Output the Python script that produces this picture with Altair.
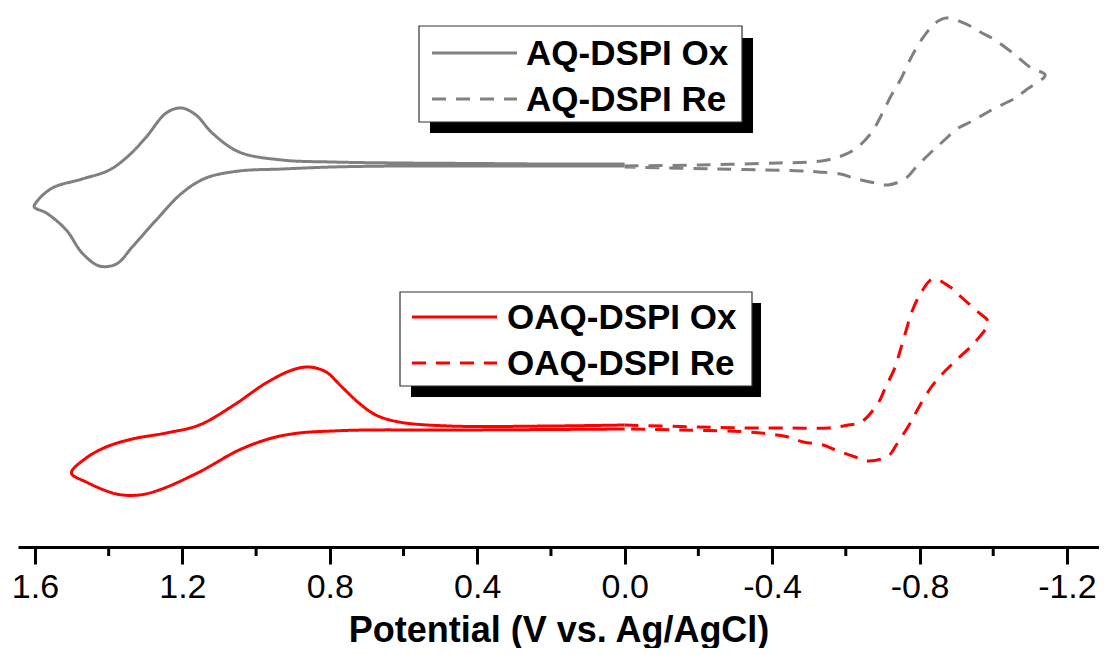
import altair as alt
import pandas as pd

# ---- data: potential (V vs. Ag/AgCl) and relative current (a.u.) ----
aq_ox_v = [0.00, 0.20, 0.40, 0.612, 0.794, 0.930, 1.046, 1.119, 1.163, 1.203, 1.244, 1.298, 1.344, 1.398,
           1.472, 1.553, 1.596, 1.602, 1.569, 1.515, 1.472, 1.425, 1.379, 1.336, 1.271, 1.201, 1.136, 1.046,
           0.930, 0.794, 0.612, 0.300, 0.00]
aq_ox_i = [38.3, 38.3, 38.35, 38.4, 38.5, 38.7, 39.5, 41.4, 43.2, 43.9, 43.4, 41.0, 39.2, 37.7,
           36.8, 35.9, 34.5, 34.0, 33.4, 31.7, 29.4, 28.1, 28.3, 30.0, 32.7, 35.4, 36.9, 37.6,
           37.8, 38.0, 38.1, 38.1, 38.1]

aq_re_v = [0.00, -0.20, -0.417, -0.534, -0.588, -0.626, -0.669, -0.694, -0.724, -0.748, -0.778, -0.805,
           -0.843, -0.873, -0.932, -0.965, -1.005, -1.060, -1.103, -1.141,
           -1.089, -1.060, -1.005, -0.981, -0.938, -0.905, -0.859, -0.832, -0.791, -0.764, -0.715, -0.680,
           -0.621, -0.585, -0.526, -0.480, -0.250, 0.00]
aq_re_i = [38.1, 38.2, 38.4, 38.6, 39.1, 39.8, 41.4, 43.0, 45.2, 46.7, 49.0, 50.7,
           52.4, 52.9, 52.2, 51.5, 50.7, 49.2, 47.9, 47.2,
           45.7, 44.9, 43.9, 43.4, 42.5, 41.9, 40.4, 39.5, 38.0, 36.9, 36.2, 36.4,
           36.9, 37.3, 37.5, 37.6, 37.8, 38.0]

oaq_ox_v = [0.00, 0.20, 0.477, 0.612, 0.675, 0.721, 0.767, 0.810, 0.856, 0.902, 0.973, 1.060, 1.154, 1.244,
            1.336, 1.407, 1.461, 1.501, 1.461, 1.379, 1.317, 1.263, 1.154, 1.046, 0.957, 0.883, 0.794, 0.702,
            0.477, 0.20, 0.00]
oaq_ox_i = [12.2, 12.1, 12.1, 12.5, 13.2, 14.4, 16.0, 17.5, 18.0, 17.7, 16.4, 14.2, 12.2, 11.4,
            10.8, 10.0, 8.9, 7.4, 6.5, 5.3, 5.2, 5.7, 7.5, 9.7, 10.9, 11.4, 11.6, 11.7,
            11.7, 11.75, 11.8]

oaq_re_v = [0.00, -0.20, -0.336, -0.453, -0.553, -0.607, -0.642, -0.688, -0.707, -0.734, -0.748, -0.764,
            -0.778, -0.805, -0.837, -0.883, -0.913, -0.959, -0.986,
            -0.951, -0.900, -0.859, -0.832, -0.797, -0.775, -0.737, -0.715, -0.661, -0.626, -0.572, -0.539,
            -0.485, -0.444, -0.393, -0.336, -0.150, 0.00]
oaq_re_i = [12.2, 12.0, 11.9, 11.9, 11.9, 12.2, 12.5, 14.4, 15.9, 18.0, 19.7, 21.7,
            23.4, 25.5, 26.8, 26.0, 25.0, 23.5, 22.5,
            20.5, 18.7, 17.2, 16.0, 13.9, 12.4, 10.2, 9.1, 8.6, 9.0, 9.7, 10.2,
            10.5, 11.0, 11.3, 11.5, 11.7, 11.8]

series_names = ["AQ-DSPI Ox", "AQ-DSPI Re", "OAQ-DSPI Ox", "OAQ-DSPI Re"]
series_colors = ["#808080", "#808080", "#ff0000", "#ff0000"]
series_dashes = [[1, 0], [14, 10], [1, 0], [14, 10]]
major_ticks = [1.6, 1.2, 0.8, 0.4, 0.0, -0.4, -0.8, -1.2]
minor_ticks = [1.4, 1.0, 0.6, 0.2, -0.2, -0.6, -1.0]
x_title = "Potential (V vs. Ag/AgCl)"

# ---- build table ----
rows = []
for name, vs, cs in zip(series_names,
                        [aq_ox_v, aq_re_v, oaq_ox_v, oaq_re_v],
                        [aq_ox_i, aq_re_i, oaq_ox_i, oaq_re_i]):
    for k, (v, c) in enumerate(zip(vs, cs)):
        rows.append({"series": name, "V": v, "I": c, "idx": k})
df = pd.DataFrame(rows)

W, H = 1081, 539
FONT = "Liberation Sans"

xscale = alt.Scale(domain=[-1.287, 1.646], reverse=True, nice=False, zero=False)
yscale = alt.Scale(domain=[0, 53.9], nice=False, zero=False)

label_expr = "datum.value < 0 ? '-' + format(-datum.value, '.1f') : format(datum.value, '.1f')"
xaxis = alt.Axis(
    values=major_ticks, labelExpr=label_expr, tickSize=17, tickWidth=3, tickColor="black",
    domainColor="black", domainWidth=3, labelFont=FONT, labelFontSize=34, labelColor="black",
    labelPadding=6, labelFlush=False, labelOverlap=False, grid=False,
    title=x_title, titleFont=FONT, titleFontSize=36, titleFontWeight="bold",
    titleColor="black", titlePadding=9)

lines = alt.Chart(df).mark_line(strokeWidth=3, interpolate="catmull-rom", strokeCap="butt").encode(
    x=alt.X("V:Q", scale=xscale, axis=xaxis, title=x_title),
    y=alt.Y("I:Q", scale=yscale, axis=None),
    color=alt.Color("series:N", scale=alt.Scale(domain=series_names, range=series_colors), legend=None),
    strokeDash=alt.StrokeDash("series:N", scale=alt.Scale(domain=series_names, range=series_dashes),
                              legend=None),
    order="idx:Q",
)

minor = alt.Chart(pd.DataFrame({"V": minor_ticks})).mark_rule(color="black", strokeWidth=3).encode(
    x=alt.X("V:Q", scale=xscale, axis=xaxis, title=x_title),
    y=alt.value(H),
    y2=alt.value(H + 9),
)

dummy = pd.DataFrame({"a": [0]})


def legend_layers(box, shadow, line_x, rows_y, text_x, names, colors, dashes):
    layers = []
    layers.append(alt.Chart(dummy).mark_rect(color="black").encode(
        x=alt.value(shadow[0]), x2=alt.value(shadow[1]), y=alt.value(shadow[2]), y2=alt.value(shadow[3])))
    layers.append(alt.Chart(dummy).mark_rect(fill="white", stroke="#333333", strokeWidth=1.2).encode(
        x=alt.value(box[0]), x2=alt.value(box[1]), y=alt.value(box[2]), y2=alt.value(box[3])))
    for name, col, dash, yy in zip(names, colors, dashes, rows_y):
        layers.append(alt.Chart(dummy).mark_rule(color=col, strokeWidth=3, strokeDash=dash,
                                                 strokeCap="butt").encode(
            x=alt.value(line_x[0]), x2=alt.value(line_x[1]), y=alt.value(yy)))
        layers.append(alt.Chart(pd.DataFrame({"t": [name]})).mark_text(
            align="left", baseline="middle", font=FONT, fontSize=35, fontWeight="bold", color="black").encode(
            x=alt.value(text_x), y=alt.value(yy + 1), text="t:N"))
    return layers


leg1 = legend_layers((401, 724, 18, 114), (412, 735, 30, 125), (414, 499), (45, 91), 508,
                     series_names[:2], series_colors[:2], series_dashes[:2])
leg2 = legend_layers((382, 734, 284, 378), (393, 743, 295, 389), (394, 479), (309, 355), 489,
                     series_names[2:], series_colors[2:], series_dashes[2:])

chart = alt.layer(lines, minor, *leg1, *leg2).properties(
    width=W, height=H, padding={"left": 3, "top": 0, "right": 0, "bottom": 0}, background="white"
).configure_view(stroke=None)

chart.save("out.html", embed_options={"renderer": "svg", "actions": False})
